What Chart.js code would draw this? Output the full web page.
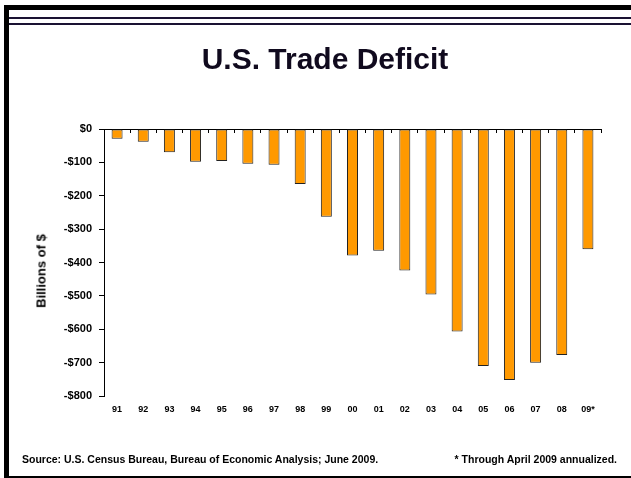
<!DOCTYPE html>
<html>
<head>
<meta charset="utf-8">
<script src="https://cdn.jsdelivr.net/npm/chart.js@4/dist/chart.umd.min.js"></script>
<style>
  body { margin: 0; background: #fff; font-family: "Liberation Sans", Arial, sans-serif; }
  #page { position: relative; width: 631px; height: 478px; overflow: hidden; }
  #tradeChart { position: absolute; left: 0; top: 0; }
  .bar { position: absolute; background: #000; }
  .rule { position: absolute; background: #1a1233; }
  #title { position: absolute; left: 0; width: 650px; top: 42px; text-align: center;
           font-weight: bold; font-size: 30px; color: #100a1e; line-height: 34px; }
  #ytitle { position: absolute; left: 41px; top: 271px; transform: translate(-50%, -50%) rotate(-90deg);
            font-weight: bold; font-size: 13px; white-space: nowrap; color: #000; }
  .note { position: absolute; top: 453px; font-weight: bold; font-size: 10.5px; color: #000; white-space: nowrap; }
</style>
</head>
<body>
<div id="page">
  <canvas id="tradeChart" width="631" height="478"></canvas>
  <div class="bar" style="left:4px; top:5px; width:627px; height:5px;"></div>
  <div class="bar" style="left:4px; top:5px; width:5px; height:473px;"></div>
  <div class="bar" style="left:4px; top:476px; width:627px; height:2px;"></div>
  <div class="rule" style="left:9px; top:17px; width:622px; height:2px;"></div>
  <div class="rule" style="left:9px; top:23px; width:622px; height:2px;"></div>
  <div id="title">U.S. Trade Deficit</div>
  <div id="ytitle">Billions of $</div>
  <div class="note" style="left:22px;">Source: U.S. Census Bureau, Bureau of Economic Analysis; June 2009.</div>
  <div class="note" style="right:14px;">* Through April 2009 annualized.</div>
</div>
<script>
const years = ['91', '92', '93', '94', '95', '96', '97', '98', '99', '00',
               '01', '02', '03', '04', '05', '06', '07', '08', '09*'];
const deficit = [-29, -38, -70, -98, -96, -104, -107, -165, -263, -379,
                 -365, -424, -496, -607, -710, -752, -700, -677, -360];
const yTicks = [0, -100, -200, -300, -400, -500, -600, -700, -800];

const ctx = document.getElementById('tradeChart').getContext('2d');

new Chart(ctx, {
  type: 'bar',
  data: {
    labels: years,
    datasets: [{
      data: deficit,
      backgroundColor: '#FF9900',
      borderColor: '#222',
      borderWidth: 1,
      borderSkipped: false,
      barPercentage: 0.84,
      categoryPercentage: 0.5
    }]
  },
  options: {
    responsive: false,
    animation: false,
    layout: { padding: { left: 0, right: 30, top: 129, bottom: 0 } },
    plugins: { legend: { display: false }, tooltip: { enabled: false } },
    scales: {
      x: {
        position: 'bottom',
        border: { display: false },
        grid: { display: false },
        ticks: { color: '#000', font: { family: 'Liberation Sans', weight: 'bold', size: 9 }, padding: 0, maxRotation: 0, autoSkip: false },
        afterFit: scale => { scale.height = 82; }
      },
      zeroAxis: {
        axis: 'x',
        position: { y: 0 },
        border: { display: true, color: '#000', width: 1 },
        grid: { display: true, drawOnChartArea: false, drawTicks: true, tickLength: 3, color: '#000', offset: true },
        ticks: { display: false }
      },
      y: {
        min: -800,
        max: 0,
        afterBuildTicks: scale => { scale.ticks = yTicks.map(v => ({ value: v })); },
        border: { display: true, color: '#000', width: 1 },
        grid: { display: true, drawOnChartArea: false, tickLength: 5, color: '#000' },
        ticks: {
          color: '#000',
          padding: 7,
          font: { family: 'Liberation Sans', weight: 'bold', size: 11 },
          callback: v => v === 0 ? '$0' : '-$' + Math.abs(v)
        },
        afterFit: scale => { scale.width = 104; }
      }
    }
  }
});
</script>
</body>
</html>
